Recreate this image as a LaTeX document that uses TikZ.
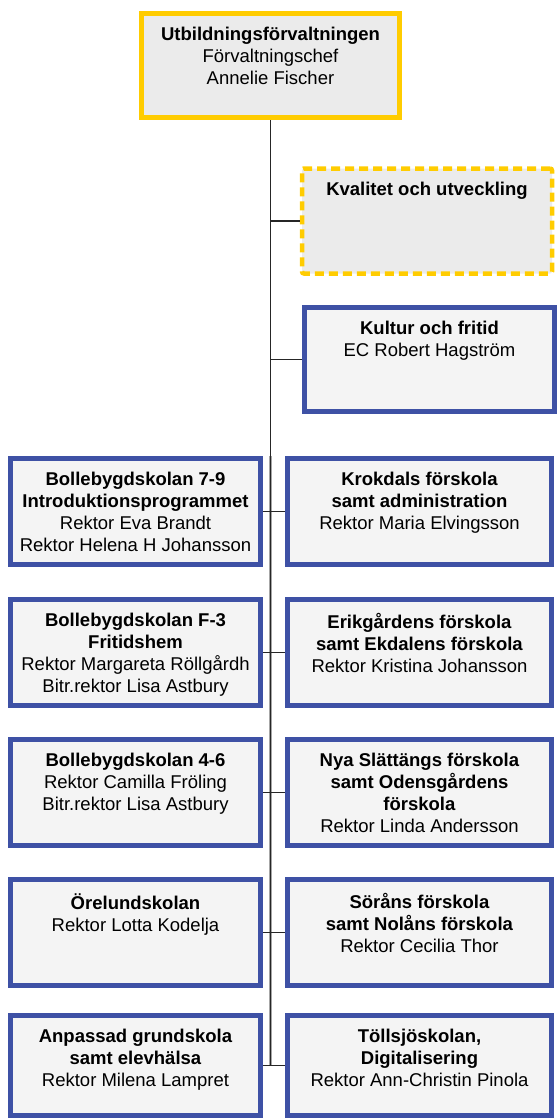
\documentclass[tikz,border=0pt]{standalone}
\usepackage[svgnames]{xcolor}
\usepackage{fontspec}
\setmainfont{Liberation Sans}
\usepackage{tikz}

\definecolor{unitblue}{RGB}{62,81,165}
\definecolor{headyellow}{RGB}{255,204,0}
\definecolor{boxgrey}{RGB}{244,244,244}
\definecolor{headgrey}{RGB}{235,235,235}
\newcommand{\boxtext}[2]{\parbox[c][#1][t]{250pt}{\centering #2}}

\begin{document}
\begin{tikzpicture}[x=1pt,y=-1pt]
\tikzset{
  every node/.style={font=\fontsize{18.5}{22}\selectfont, inner xsep=0pt, inner ysep=14pt},
  unit/.style={draw=unitblue, line width=5pt, fill=boxgrey},
  head/.style={draw=headyellow, line width=5pt, fill=headgrey},
  support/.style={draw=headyellow, line width=4.5pt, fill=headgrey, dash pattern=on 9pt off 5pt, rounded corners=2pt},
  leftunit/.style={unit, minimum width=250pt},
  rightunit/.style={unit, minimum width=264pt},
  link/.style={draw=black!85, line width=1.3pt},
  trunkshade/.style={draw=black!35, line width=3.5pt},
}
\useasboundingbox (0,0) rectangle (557,1120);

\node[head, minimum width=258pt] (top) at (270.5,65.5)
  {\boxtext{76pt}{\textbf{Utbildningsförvaltningen}\\Förvaltningschef\\Annelie Fischer}};
\node[support, minimum width=245pt] (kval) at (427,221)
  {\boxtext{77pt}{\textbf{Kvalitet och utveckling}}};
\node[unit, minimum width=248pt] (kultur) at (429.5,359.5)
  {\boxtext{76pt}{\textbf{Kultur och fritid}\\EC Robert Hagström}};

% skolor
\node[leftunit] (l1) at (135.5,511.5)
  {\boxtext{78pt}{\textbf{Bollebygdskolan 7-9}\\\textbf{Introduktionsprogrammet}\\Rektor Eva Brandt\\Rektor Helena H Johansson}};
\node[leftunit] (l2) at (135.5,652.5)
  {\boxtext{78pt}{\textbf{Bollebygdskolan F-3}\\\textbf{Fritidshem}\\Rektor Margareta Röllgårdh\\Bitr.rektor Lisa Astbury}};
\node[leftunit] (l3) at (135.5,792.5)
  {\boxtext{78pt}{\textbf{Bollebygdskolan 4-6}\\Rektor Camilla Fröling\\Bitr.rektor Lisa Astbury}};
\node[leftunit] (l4) at (135.5,932.5)
  {\boxtext{78pt}{\textbf{Örelundskolan}\\Rektor Lotta Kodelja}};
\node[leftunit] (l5) at (135.5,1065.5)
  {\boxtext{72pt}{\textbf{Anpassad grundskola}\\\textbf{samt elevhälsa}\\Rektor Milena Lampret}};

% förskolor
\node[rightunit] (r1) at (419.5,511.5)
  {\boxtext{78pt}{\textbf{Krokdals förskola}\\\textbf{samt administration}\\Rektor Maria Elvingsson}};
\node[rightunit] (r2) at (419.5,652.5)
  {\boxtext{78pt}{\textbf{Erikgårdens förskola}\\\textbf{samt Ekdalens förskola}\\Rektor Kristina Johansson}};
\node[rightunit] (r3) at (419.5,792.5)
  {\boxtext{78pt}{\textbf{Nya Slättängs förskola}\\\textbf{samt Odensgårdens}\\\textbf{förskola}\\Rektor Linda Andersson}};
\node[rightunit] (r4) at (419.5,932.5)
  {\boxtext{78pt}{\textbf{Söråns förskola}\\\textbf{samt Nolåns förskola}\\Rektor Cecilia Thor}};
\node[rightunit] (r5) at (419.5,1065.5)
  {\boxtext{72pt}{\textbf{Töllsjöskolan,}\\\textbf{Digitalisering}\\Rektor Ann-Christin Pinola}};

% linjer
\draw[trunkshade] (top.south |- l1.north) -- (top.south |- l5.east);
\draw[link] (top.south) -- (top.south |- l5.east);
\draw[link] (kval.west) -- (kval.west -| top.south);
\draw[link] (kultur.west) -- (kultur.west -| top.south);
\foreach \i in {1,...,5}
  \draw[link] (l\i.east) -- (r\i.west);
\end{tikzpicture}
\end{document}
